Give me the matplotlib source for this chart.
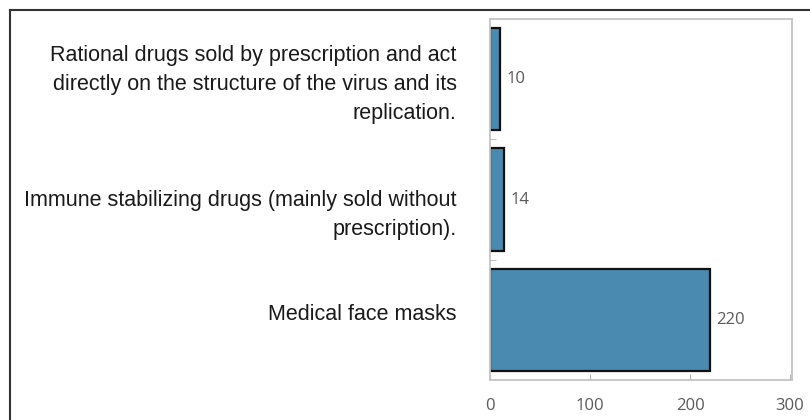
import matplotlib.pyplot as plt
from matplotlib.lines import Line2D
from matplotlib.transforms import ScaledTranslation

categories = [
    "Rational drugs sold by prescription and act\ndirectly on the structure of the virus and its\nreplication.",
    "Immune stabilizing drugs (mainly sold without\nprescription).",
    "Medical face masks",
]
counts = [10, 14, 220]
x_ticks = [0, 100, 200, 300]

bar_color = "#4a8ab1"
grey = "#5a5a5a"

fig = plt.figure(figsize=(8.1, 4.2), dpi=100)
ax = fig.add_axes([490 / 810, 40 / 420, 302 / 810, 361 / 420])

pos = list(range(len(categories)))
ax.barh(pos, counts, height=0.85, color=bar_color, edgecolor="#111111", linewidth=1.6)
ax.set_ylim(len(categories) - 0.5, -0.5)
ax.set_xlim(0, 302)

# value labels just past the end of each bar
for p, v in zip(pos, counts):
    ax.annotate(str(v), (v, p), xytext=(4.5, 0), textcoords="offset points",
                va="center", ha="left", fontsize=12, color=grey, family="Open Sans")

ax.set_xticks(x_ticks)
ax.set_xticklabels([str(t) for t in x_ticks], family="Open Sans", fontsize=12, color=grey)
ax.tick_params(axis="x", direction="in", length=4, color="#b0b0b0", pad=13)

ax.set_yticks(pos)
ax.set_yticklabels(categories, family="Liberation Sans", fontsize=15.5, color="#1a1a1a",
                   linespacing=1.5, ha="right")
ax.tick_params(axis="y", length=0, pad=24)
ax.set_yticks([0.5, 1.5], minor=True)
ax.tick_params(axis="y", which="minor", direction="in", length=4, color="#b0b0b0")

# nudge the category labels down (pixels)
shifts = [-1, 9, -8]
for lab, s in zip(ax.get_yticklabels(), shifts):
    lab.set_transform(lab.get_transform() + ScaledTranslation(0, -s / 100, fig.dpi_scale_trans))

for sp in ax.spines.values():
    sp.set_color("#c4c4c4")
    sp.set_linewidth(1.3)

# outer frame (top and left edges)
fig.add_artist(Line2D([10 / 810, 1.0], [1 - 10 / 420, 1 - 10 / 420], color="#333333", lw=1.5))
fig.add_artist(Line2D([10 / 810, 10 / 810], [0, 1 - 10 / 420], color="#333333", lw=1.5))

fig.savefig("out.png", dpi=100)
